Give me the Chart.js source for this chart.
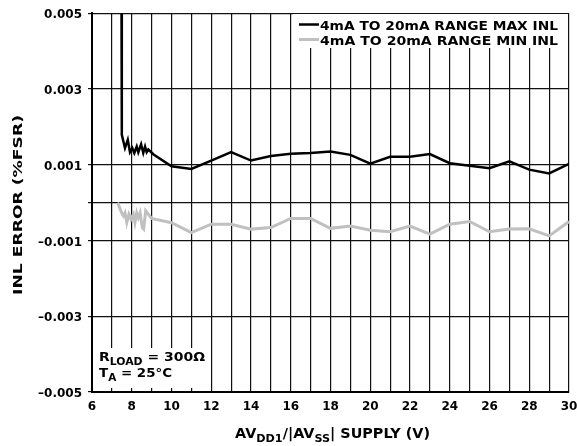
<!DOCTYPE html>
<html>
<head>
<meta charset="utf-8">
<script src="https://cdn.jsdelivr.net/npm/chart.js@4"></script>
<style>
  html, body { margin: 0; padding: 0; background: #fff; }
  #wrap { width: 577px; height: 446px; position: relative; }
</style>
</head>
<body>
<div id="wrap"><canvas id="grafico" width="577" height="446"></canvas></div>
<script>
// valores
const maxInlX = [7.48, 7.5, 7.66, 7.8, 7.91, 8.03, 8.13, 8.25, 8.33, 8.47, 8.58, 8.67, 8.75, 8.83, 9.1,
  10, 11, 12, 13, 14, 15, 16, 17, 18, 19, 20, 21, 22, 23, 24, 25, 26, 27, 28, 29, 30];
const maxInlY = [0.0062, 0.00179, 0.00144, 0.00166, 0.00133, 0.00144, 0.00131, 0.00148, 0.00133, 0.00154, 0.00131, 0.00148, 0.00133, 0.0014, 0.00127,
  0.00096, 0.00089, 0.00111, 0.00133, 0.00111, 0.00123, 0.00129, 0.00131, 0.00135, 0.00126, 0.00103,
  0.00121, 0.00121, 0.00128, 0.00104, 0.00097, 0.00091, 0.00109, 0.00087, 0.00077, 0.00102];

const minInlX = [7.29, 7.49, 7.58, 7.66, 7.75, 7.86, 7.96, 8.08, 8.16, 8.25, 8.33, 8.42, 8.53, 8.6, 8.7, 9.0,
  10, 11, 12, 13, 14, 15, 16, 17, 18, 19, 20, 21, 22, 23, 24, 25, 26, 27, 28, 29, 30];
const minInlY = [0.0, -0.00027, -0.00035, -0.00027, -0.00053, -0.00031, -0.00044, -0.00031, -0.00053, -0.00027, -0.0004, -0.00027, -0.00066, -0.0007, -0.00022, -0.00042,
  -0.00053, -0.00079, -0.00057, -0.00057, -0.0007, -0.00066, -0.00042, -0.00042, -0.00068, -0.00062, -0.00073,
  -0.00077, -0.00062, -0.00083, -0.00057, -0.0005, -0.00077, -0.0007, -0.00069, -0.00088, -0.0005];

const serieNomes = ['4mA TO 20mA RANGE MAX INL', '4mA TO 20mA RANGE MIN INL'];
const yGradeMil = [5, 3, 1, 0, -1, -3, -5];   // linhas horizontais (x 0.001)
const yRotuloMil = [5, 3, 1, -1, -3, -5];

const FONTE = 'DejaVu Sans';

function pares(xs, ys) {
  return xs.map((x, i) => ({ x, y: ys[i] }));
}

// texto com subscritos, esticado até a largura medida
function textoRico(ctx, partes, x, y, tam, largura, alinhar) {
  ctx.save();
  let total = 0;
  partes.forEach(p => {
    ctx.font = 'bold ' + (p.sub ? tam * 0.78 : tam) + 'px "' + FONTE + '"';
    p.w = ctx.measureText(p.t).width;
    total += p.w;
  });
  const esc = largura ? largura / total : 1;
  ctx.translate(x, y);
  ctx.scale(esc, 1);
  let cx = alinhar === 'center' ? -total / 2 : 0;
  ctx.fillStyle = '#000';
  ctx.textBaseline = 'alphabetic';
  ctx.textAlign = 'left';
  partes.forEach(p => {
    ctx.font = 'bold ' + (p.sub ? tam * 0.78 : tam) + 'px "' + FONTE + '"';
    ctx.fillText(p.t, cx, p.sub ? tam * 0.3 : 0);
    cx += p.w;
  });
  ctx.restore();
}

const caixasPlugin = {
  id: 'caixas',
  beforeDatasetsDraw(chart) {
    const ctx = chart.ctx;
    ctx.save();
    ctx.fillStyle = '#fff';
    ctx.fillRect(293, 14, 275, 34);   // legenda
    ctx.fillRect(94, 348, 113, 40);   // anotação
    ctx.restore();
  },
  afterDraw(chart) {
    const ctx = chart.ctx;
    // legenda
    const cores = chart.data.datasets.map(d => d.borderColor);
    [24.5, 39.5].forEach((ly, i) => {
      ctx.save();
      ctx.strokeStyle = cores[i];
      ctx.lineWidth = i === 0 ? 2.5 : 3;
      ctx.beginPath();
      ctx.moveTo(299, ly);
      ctx.lineTo(319, ly);
      ctx.stroke();
      ctx.restore();
      textoRico(ctx, [{ t: serieNomes[i] }], 320, i === 0 ? 30 : 44.5, 12.8, 238, 'left');
    });
    // anotação
    textoRico(ctx, [{ t: 'R' }, { t: 'LOAD', sub: true }, { t: ' = 300Ω' }], 99, 360.7, 12.8, 106, 'left');
    textoRico(ctx, [{ t: 'T' }, { t: 'A', sub: true }, { t: ' = 25°C' }], 99, 376.7, 12.8, 73, 'left');
    // título eixo x
    textoRico(ctx, [{ t: 'AV' }, { t: 'DD1', sub: true }, { t: '/|AV' }, { t: 'SS', sub: true }, { t: '| SUPPLY (V)' }],
      332.5, 438.3, 13.5, 195, 'center');
    // título eixo y
    ctx.save();
    ctx.translate(22, 205);
    ctx.rotate(-Math.PI / 2);
    textoRico(ctx, [{ t: 'INL ERROR (%FSR)' }], 0, 0, 13, 180, 'center');
    ctx.restore();
  }
};

function mil(v) { return Math.round(v * 1000); }

new Chart(document.getElementById('grafico').getContext('2d'), {
  type: 'line',
  data: {
    datasets: [
      {
        label: serieNomes[0],
        data: pares(maxInlX, maxInlY),
        borderColor: '#000',
        borderWidth: 2.5,
        pointRadius: 0,
        tension: 0
      },
      {
        label: serieNomes[1],
        data: pares(minInlX, minInlY),
        borderColor: '#c0c0c0',
        borderWidth: 3,
        pointRadius: 0,
        tension: 0
      }
    ]
  },
  options: {
    responsive: false,
    animation: false,
    layout: { padding: { left: 0, top: 11, right: 8, bottom: 0 } },
    plugins: { legend: { display: false }, tooltip: { enabled: false } },
    scales: {
      x: {
        type: 'linear',
        min: 6,
        max: 30,
        afterFit: s => { s.height = 54; s.paddingLeft = 0; s.paddingRight = 0; },
        border: { color: '#000', width: 2 },
        grid: { color: '#111', lineWidth: 1.2, drawTicks: false },
        ticks: {
          stepSize: 1,
          autoSkip: false,
          maxRotation: 0,
          padding: 8,
          color: '#000',
          font: { family: FONTE, size: 12, weight: 'bold' },
          callback: v => (v % 2 === 0 ? String(v) : '')
        }
      },
      y: {
        type: 'linear',
        min: -0.005,
        max: 0.005,
        afterFit: s => { s.width = 92; },
        border: { color: '#000', width: 2 },
        grid: {
          color: c => (yGradeMil.includes(mil(c.tick.value)) ? '#111' : 'rgba(0,0,0,0)'),
          lineWidth: 1.2,
          tickLength: 4
        },
        ticks: {
          stepSize: 0.001,
          autoSkip: false,
          padding: 6,
          labelOffset: 2,
          color: '#000',
          font: { family: FONTE, size: 12, weight: 'bold' },
          callback: v => {
            const m = mil(v);
            if (!yRotuloMil.includes(m)) return '';
            return (m < 0 ? '\u2013' : '') + (Math.abs(m) / 1000).toFixed(3);
          }
        }
      }
    }
  },
  plugins: [caixasPlugin]
});
</script>
</body>
</html>
